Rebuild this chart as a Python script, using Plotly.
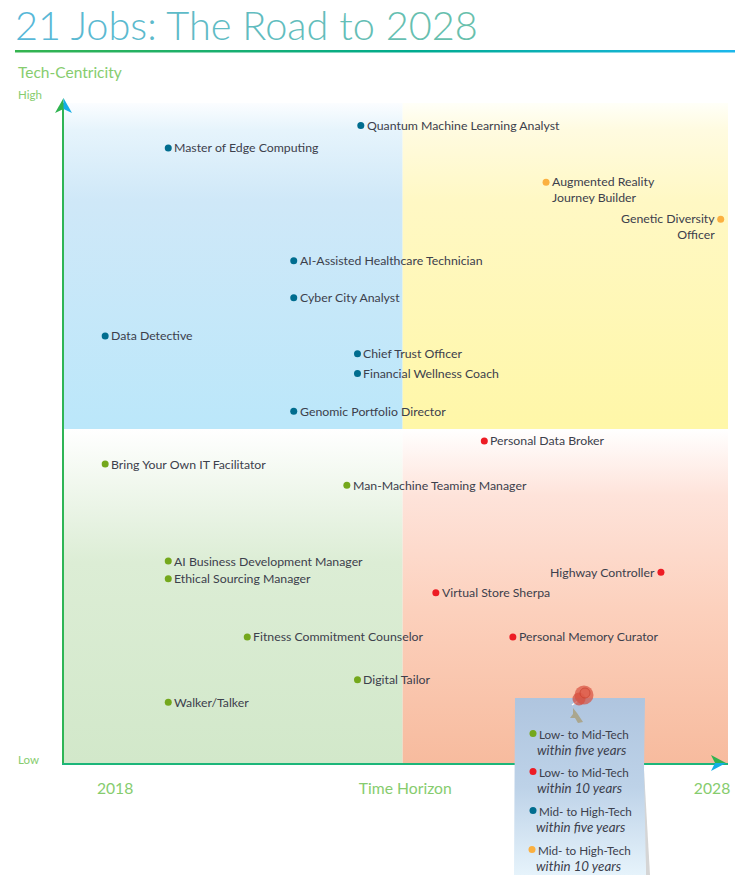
import plotly.graph_objects as go

# ---------- data ----------
teal_jobs = ["Quantum Machine Learning Analyst", "Master of Edge Computing", "AI-Assisted Healthcare Technician",
             "Cyber City Analyst", "Data Detective", "Chief Trust Officer", "Financial Wellness Coach",
             "Genomic Portfolio Director"]
teal_x = [44.7, 15.7, 34.6, 34.6, 6.2, 44.2, 44.2, 34.6]
teal_y = [96.6, 93.2, 76.1, 70.5, 64.7, 62.0, 59.0, 53.3]

orange_jobs = ["Augmented Reality<br>Journey Builder", "Genetic Diversity<br>Officer"]
orange_x = [72.6, 98.9]
orange_y = [88.0, 82.4]

red_jobs = ["Personal Data Broker", "Highway Controller", "Virtual Store Sherpa", "Personal Memory Curator"]
red_x = [63.3, 89.9, 56.0, 67.6]
red_y = [48.8, 28.9, 25.8, 19.1]

green_jobs = ["Bring Your Own IT Facilitator", "Man-Machine Teaming Manager", "AI Business Development Manager",
              "Ethical Sourcing Manager", "Fitness Commitment Counselor", "Digital Tailor", "Walker/Talker"]
green_x = [6.2, 42.6, 15.7, 15.7, 27.6, 44.2, 15.7]
green_y = [45.3, 42.1, 30.6, 27.9, 19.1, 12.6, 9.2]

x_tick_vals = [7.7, 51.4, 97.6]
x_tick_text = ["2018", "Time Horizon", "2028"]

legend_lines = [("Low- to Mid-Tech", "within five years"), ("Low- to Mid-Tech", "within 10 years"),
                ("Mid- to High-Tech", "within five years"), ("Mid- to High-Tech", "within 10 years")]

TEAL, ORANGE, RED, GREEN = "#006d8f", "#fbb040", "#ed1c24", "#74a81c"
FONT = "Lato"
TXT = "#3c404c"
LABEL_GREEN = "#86cc6e"

W, H = 755, 875
L, R, T, B = 64, 728, 103, 763
XM, YM = 51.0, 50.6

fig = go.Figure()


def grad(xs, ys, stops, kind="vertical", xa="x", ya="y"):
    g = dict(type=kind, colorscale=stops)
    fig.add_trace(go.Scatter(x=xs, y=ys, mode="lines", fill="toself", line=dict(width=0), fillgradient=g,
                             xaxis=xa, yaxis=ya, hoverinfo="skip", showlegend=False))


# quadrants
grad([0, XM, XM, 0, 0], [YM, YM, 100, 100, YM],
     [[0, "#bbe7fa"], [0.7, "#cfe8f8"], [0.917, "#e6f4fc"], [1, "#fbfdff"]])
grad([XM, 100, 100, XM, XM], [YM, YM, 100, 100, YM],
     [[0, "#fff7a8"], [0.7, "#fff8c4"], [0.917, "#fffbe0"], [1, "#fffff8"]])
grad([0, XM, XM, 0, 0], [0, 0, YM, YM, 0],
     [[0, "#d2e8ca"], [0.6, "#dcedd5"], [1, "#ffffff"]])
grad([XM, 100, 100, XM, XM], [0, 0, YM, YM, 0],
     [[0, "#f7bb9e"], [0.45, "#fcd0bc"], [0.8, "#fee3da"], [1, "#ffffff"]])

# job dots
for xs, ys, c, names in [(teal_x, teal_y, TEAL, teal_jobs), (orange_x, orange_y, ORANGE, orange_jobs),
                         (red_x, red_y, RED, red_jobs), (green_x, green_y, GREEN, green_jobs)]:
    fig.add_trace(go.Scatter(x=xs, y=ys, mode="markers", marker=dict(color=c, size=7), text=names,
                             hoverinfo="text", showlegend=False))

ann = []
right_side = {"Highway Controller", "Genetic Diversity<br>Officer"}
for xs, ys, names in [(teal_x, teal_y, teal_jobs), (orange_x, orange_y, orange_jobs),
                      (red_x, red_y, red_jobs), (green_x, green_y, green_jobs)]:
    for x, y, n in zip(xs, ys, names):
        left = n in right_side
        ann.append(dict(x=x, y=y, xref="x", yref="y", text=n, showarrow=False,
                        xanchor="right" if left else "left", yanchor="middle",
                        align="right" if left else "left",
                        xshift=-4 if left else 4, yshift=-7 if "<br>" in n else 0,
                        font=dict(family=FONT, size=12.3, color=TXT)))

# ---------- decoration layer, in page pixels ----------
grad([15, 735, 735, 15, 15], [50, 50, 52.5, 52.5, 50],
     [[0, "#35b44f"], [0.55, "#00ab8e"], [1, "#1cb7ec"]], kind="horizontal", xa="x2", ya="y2")
for px, py, c in [([63.5, 55, 63.5, 63.5], [98, 113, 109, 98], "#2fb350"),
                  ([63.5, 72, 63.5, 63.5], [98, 113, 109, 98], "#14aee6"),
                  ([726, 711, 715, 726], [763, 755, 763, 763], "#2fb350"),
                  ([726, 711, 715, 726], [763, 771, 763, 763], "#14aee6")]:
    fig.add_trace(go.Scatter(x=px, y=py, mode="lines", fill="toself", fillcolor=c, line=dict(width=0),
                             xaxis="x2", yaxis="y2", hoverinfo="skip", showlegend=False))
fig.add_trace(go.Scatter(x=[640, 644, 650, 646, 640], y=[760, 770, 875, 875, 760], mode="lines", fill="toself",
                         fillcolor="#d5d5d5", line=dict(width=0), xaxis="x2", yaxis="y2",
                         hoverinfo="skip", showlegend=False))
grad([515, 645, 644, 646, 514, 515], [698, 698, 770, 875, 875, 698],
     [[0, "#e6f3fb"], [0.5, "#bdd2e8"], [1, "#afc5df"]], xa="x2", ya="y2")
# pin shadow
fig.add_trace(go.Scatter(x=[573, 577, 583, 578, 575, 570, 573, 573], y=[708, 713, 722, 723, 718, 718, 714, 708],
                         mode="lines", fill="toself", fillcolor="#aaa68e", line=dict(width=0),
                         xaxis="x2", yaxis="y2", hoverinfo="skip", showlegend=False))
# pin
fig.add_trace(go.Scatter(x=[572, 578], y=[705, 701], mode="lines", line=dict(color="#ffffff", width=1.5),
                         xaxis="x2", yaxis="y2", hoverinfo="skip", showlegend=False))
fig.add_trace(go.Scatter(x=[579, 584, 585], y=[699, 695, 693], mode="markers",
                         marker=dict(size=[13, 19, 10], color=["#d2493b", "#d9503f", "#e0604e"],
                                     line=dict(width=[0, 0, 1], color="#c9402f")),
                         xaxis="x2", yaxis="y2", hoverinfo="skip", showlegend=False))
leg_y = [734, 772, 811, 850]
leg_c = [GREEN, RED, TEAL, ORANGE]
fig.add_trace(go.Scatter(x=[533, 533, 533, 532], y=[l - 0.5 for l in leg_y], mode="markers",
                         marker=dict(size=7, color=leg_c), xaxis="x2", yaxis="y2",
                         hoverinfo="skip", showlegend=False))
for (a, b), y, x1, x2 in zip(legend_lines, leg_y, [537, 537, 537, 536], [535, 535, 534, 534]):
    ann.append(dict(x=x1, y=y, xref="x2", yref="y2", text=a, showarrow=False, xanchor="left", yanchor="middle",
                    font=dict(family=FONT, size=11.7, color=TXT)))
    ann.append(dict(x=x2, y=y + 16, xref="x2", yref="y2", text="<i>%s</i>" % b, showarrow=False, xanchor="left",
                    yanchor="middle", font=dict(family=FONT, size=13.3, color=TXT)))

title = "21 Jobs: The Road to 2028"
c0, c1 = (88, 184, 216), (104, 192, 172)
spans = []
for i, ch in enumerate(title):
    t = i / (len(title) - 1)
    col = tuple(round(a + (b - a) * t) for a, b in zip(c0, c1))
    spans.append('<span style="color:rgb(%d,%d,%d)">%s</span>' % (*col, ch))
ann.append(dict(x=13, y=24, xref="x2", yref="y2", text="".join(spans), showarrow=False, xanchor="left",
                yanchor="middle", font=dict(family=FONT, size=39.7, weight=300)))
for txt, y, size in [("Tech-Centricity", 72, 15.5), ("High", 94, 11.5), ("Low", 759, 11.5)]:
    ann.append(dict(x=16, y=y, xref="x2", yref="y2", text=txt, showarrow=False, xanchor="left", yanchor="middle",
                    font=dict(family=FONT, size=size, color=LABEL_GREEN)))

fig.update_layout(
    width=W, height=H, margin=dict(l=0, r=0, t=0, b=0, autoexpand=False),
    paper_bgcolor="white", plot_bgcolor="rgba(0,0,0,0)",
    showlegend=False, annotations=ann,
    xaxis=dict(domain=[L / W, R / W], range=[0, 100], showgrid=False, zeroline=False, showline=True,
               linecolor="#1cb67a", linewidth=2, tickvals=x_tick_vals, ticktext=x_tick_text, ticks="",
               ticklabelstandoff=10, tickfont=dict(family=FONT, size=15.7, color=LABEL_GREEN), fixedrange=True),
    yaxis=dict(domain=[(H - B) / H, (H - T) / H], range=[0, 100], showgrid=False, zeroline=False, showline=True,
               linecolor="#2fb556", linewidth=2, showticklabels=False, ticks="", fixedrange=True),
    xaxis2=dict(domain=[0, 1], range=[0, W], visible=False, anchor="y2", fixedrange=True),
    yaxis2=dict(domain=[0, 1], range=[H, 0], visible=False, anchor="x2", fixedrange=True),
)
fig.write_html("out.html", config=dict(displayModeBar=False),
               post_script="document.body.style.margin='0';document.documentElement.style.overflow='hidden';")
